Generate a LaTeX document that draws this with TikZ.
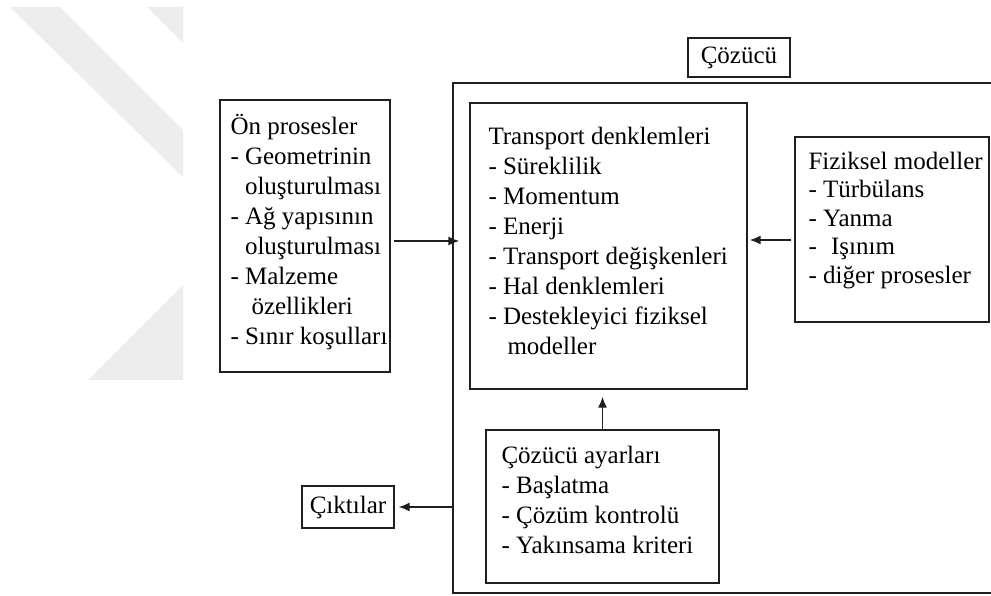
\documentclass[tikz,border=0pt]{standalone}
\usepackage{fontspec}
\setmainfont{Liberation Serif}
\usetikzlibrary{arrows.meta,calc}
\tikzset{
  box/.style={draw=black!88, line width=1.4pt, rectangle, inner sep=0pt, fill=white},
  txt/.style={anchor=north west, inner sep=0pt, align=left, text=black, font=\fontsize{25}{30}\selectfont},
  arr/.style={draw=black!88, line width=1.4pt, -{Latex[length=11pt,width=9pt]}},
  wm/.style={fill=black!7, draw=none}
}
\begin{document}
\begin{tikzpicture}[x=1pt,y=-1pt]
\useasboundingbox (0,0) rectangle (991,596);
\fill[white] (0,0) rectangle (991,596);
\clip (0,0) rectangle (991,596);
% watermark
\fill[wm] (10,7) -- (60,7) -- (183,130) -- (183,177) -- cycle;
\fill[wm] (147,7) -- (183,7) -- (183,43) -- cycle;
\fill[wm] (183,285) -- (88,380) -- (183,380) -- cycle;

% solver frame and its label
\node[box, minimum width=647pt, minimum height=510pt] (solver) at (776.5,338) {};
\node[box, minimum width=102pt, minimum height=39pt, text=black, font=\fontsize{25}{30}\selectfont] (cozlabel) at (739,57.5) {Çözücü};

% boxes
\node[box, minimum width=170pt, minimum height=272pt] (on) at (305,236) {};
\node[txt] (onT) at ($(on.north west)+(11,11)$) {\rule{0pt}{24pt}Ön prosesler\\
- Geometrinin\\
\hspace*{14.5pt}oluşturulması\\
- Ağ yapısının\\
\hspace*{14.5pt}oluşturulması\\
- Malzeme\\
\hspace*{21pt}özellikleri\\
- Sınır koşulları};

\node[box, minimum width=277pt, minimum height=286pt] (tr) at (608.5,246) {};
\node[txt] (trT) at ($(tr.north west)+(19,18)$) {\rule{0pt}{24pt}Transport denklemleri\\
- Süreklilik\\
- Momentum\\
- Enerji\\
- Transport değişkenleri\\
- Hal denklemleri\\
- Destekleyici fiziksel\\
\hspace*{19pt}modeller};

\node[box, minimum width=194pt, minimum height=185pt] (fiz) at (892,229.5) {};
\node[txt, font=\fontsize{25}{28.5}\selectfont] (fizT) at ($(fiz.north west)+(14,9)$) {\rule{0pt}{24pt}Fiziksel modeller\\
- Türbülans\\
- Yanma\\
- \hspace*{8pt}Işınım\\
- diğer prosesler};

\node[box, minimum width=233pt, minimum height=153pt] (ca) at (602.5,506.5) {};
\node[txt] (caT) at ($(ca.north west)+(16,10)$) {\rule{0pt}{24pt}Çözücü ayarları\\
- Başlatma\\
- Çözüm kontrolü\\
- Yakınsama kriteri};

\node[box, minimum width=92pt, minimum height=42pt, text=black, font=\fontsize{25}{30}\selectfont] (cik) at (348,507) {Çıktılar};

% connectors
\coordinate (a1) at (0,241);
\coordinate (a2) at (0,240);
\draw[arr] ($(on.east |- a1)+(3,0)$) -- ($(solver.west |- a1)+(7,0)$);
\draw[arr] ($(fiz.west |- a2)+(-3,0)$) -- ($(tr.east |- a2)+(2,0)$);
\draw[arr] (ca.north) -- ($(ca.north |- tr.south)+(0,7)$);
\draw[arr] (solver.west |- cik.east) -- ($(cik.east)+(4,0)$);
\end{tikzpicture}
\end{document}
